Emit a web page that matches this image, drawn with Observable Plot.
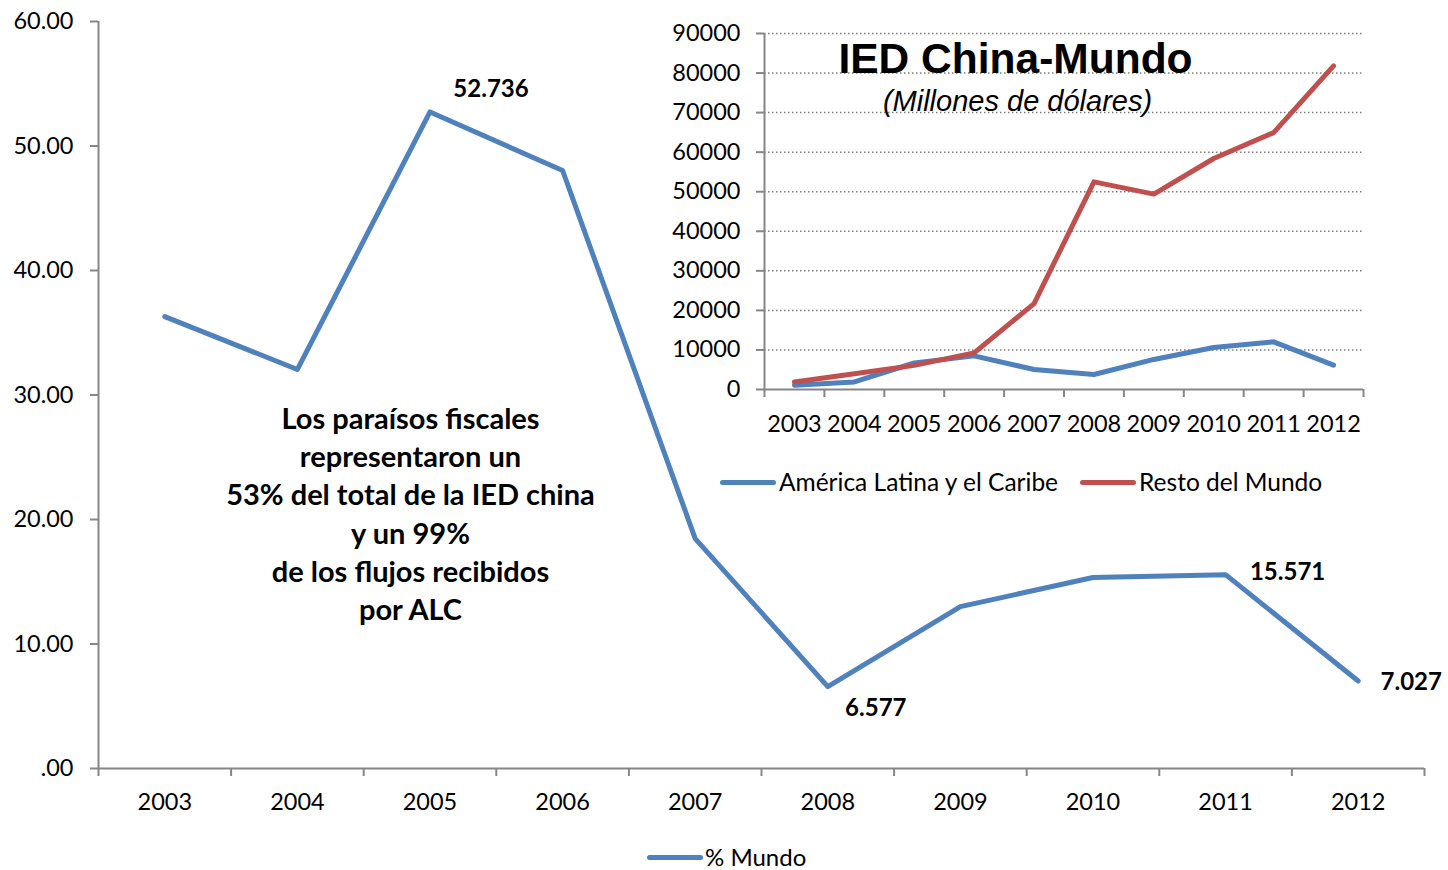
<!DOCTYPE html>
<html><head><meta charset="utf-8">
<script src="https://cdn.jsdelivr.net/npm/d3@7"></script>
<script src="https://cdn.jsdelivr.net/npm/@observablehq/plot@0.6"></script>
<style>
body{margin:0;background:#fff;font-family:Lato,sans-serif;}
#wrap{position:relative;width:1448px;height:870px;overflow:hidden;background:#fff;}
.abs{position:absolute;}
.leg{position:absolute;display:flex;align-items:center;height:24px;line-height:24px;padding-right:10px;font-family:Lato,sans-serif;color:#000;white-space:nowrap;}
.sw{display:inline-block;height:5px;border-radius:3px;flex:none;}
</style></head><body><div id="wrap"></div>
<script>
// ---- data ----
const years = [2003, 2004, 2005, 2006, 2007, 2008, 2009, 2010, 2011, 2012];
const pctMundo = [36.3, 32.05, 52.736, 48.03, 18.47, 6.577, 13.0, 15.34, 15.571, 7.027];
const americaLatina = [1100, 1900, 6700, 8500, 5050, 3800, 7600, 10600, 12050, 6150];
const restoMundo = [1900, 4000, 6100, 9250, 21700, 52500, 49400, 58400, 64950, 81800];
const seriesNames = ["América Latina y el Caribe", "Resto del Mundo"];
const mainYTicks = [0, 10, 20, 30, 40, 50, 60];
const insetYTicks = [0, 10000, 20000, 30000, 40000, 50000, 60000, 70000, 80000, 90000];
const labeledYears = [2005, 2008, 2011, 2012];
const mainLegend = "% Mundo";
const insetTitle = "IED China-Mundo";
const insetSubtitle = "(Millones de dólares)";
const noteText = "Los paraísos fiscales\nrepresentaron un\n53% del total de la IED china\ny un 99%\nde los flujos recibidos\npor ALC";

const BLUE = "#4F81BD", RED = "#C0504D", AXIS = "#868686";
const wrap = document.getElementById("wrap");

const mainData = years.map((year, i) => ({year, pct: pctMundo[i]}));
const bounds = years.map(y => y - 0.5).concat([years[years.length - 1] + 0.5]);
const xDomain = [bounds[0], bounds[bounds.length - 1]];
const fmtY = d => d3.format(".2f")(d).replace(/^0\./, ".");
const fmtL = d3.format(".3f");
const lab = (yr) => mainData.filter(d => d.year === yr);

const labelOpts = {x: "year", y: "pct", text: d => fmtL(d.pct), fontWeight: "bold", fontSize: 24, fill: "#000"};

const main = Plot.plot({
  width: 1448, height: 830,
  marginLeft: 98, marginRight: 24, marginTop: 21, marginBottom: 62,
  style: {fontFamily: "Lato, sans-serif", fontSize: "23.5px", color: "#000", background: "transparent", overflow: "visible"},
  x: {type: "linear", domain: xDomain},
  y: {domain: [0, 60]},
  marks: [
    Plot.axisY({ticks: mainYTicks, tickSize: 8, tickFormat: () => "", color: AXIS, strokeWidth: 2, label: null}),
    Plot.axisY({ticks: mainYTicks, tickSize: 0, tickPadding: 25, tickFormat: fmtY, color: "#000", label: null}),
    Plot.axisX({ticks: bounds, tickSize: 8, tickFormat: () => "", color: AXIS, strokeWidth: 2, label: null}),
    Plot.axisX({ticks: years, tickSize: 0, tickPadding: 25, tickFormat: d => String(d), color: "#000", label: null}),
    Plot.ruleX([xDomain[0]], {stroke: AXIS, strokeWidth: 2}),
    Plot.ruleY([0], {stroke: AXIS, strokeWidth: 2}),
    Plot.line(mainData, {x: "year", y: "pct", stroke: BLUE, strokeWidth: 5, strokeLinejoin: "round", strokeLinecap: "round"}),
    Plot.text(lab(labeledYears[0]), {...labelOpts, dx: 61, dy: -23}),
    Plot.text(lab(labeledYears[1]), {...labelOpts, dx: 48, dy: 22}),
    Plot.text(lab(labeledYears[2]), {...labelOpts, dx: 62, dy: -2}),
    Plot.text(lab(labeledYears[3]), {...labelOpts, dx: 53, dy: 1}),
    Plot.text([noteText], {frameAnchor: "top-left", dx: 312, dy: 380, lineAnchor: "top", textAnchor: "middle",
      fontWeight: "bold", fontSize: 29, lineHeight: 1.32, fill: "#000"})
  ]
});
main.classList.add("abs");
main.style.left = "0px"; main.style.top = "0px";
wrap.appendChild(main);

// main legend
const ml = document.createElement("div");
ml.className = "leg";
ml.style.left = "647px"; ml.style.top = "845px"; ml.style.fontSize = "24px";
ml.innerHTML = `<span class="sw" style="width:56px;background:${BLUE}"></span><span style="margin-left:2px">${mainLegend}</span>`;
wrap.appendChild(ml);

// ---- inset ----
const insetData = years.flatMap((year, i) => [
  {year, series: seriesNames[0], value: americaLatina[i]},
  {year, series: seriesNames[1], value: restoMundo[i]}
]);
const inset = Plot.plot({
  width: 720, height: 440,
  marginLeft: 104, marginRight: 17, marginTop: 33, marginBottom: 51,
  style: {fontFamily: "Lato, sans-serif", fontSize: "23.5px", color: "#000", background: "transparent", overflow: "visible"},
  x: {type: "linear", domain: xDomain},
  y: {domain: [0, 90000]},
  color: {domain: seriesNames, range: [BLUE, RED]},
  marks: [
    Plot.gridY({ticks: insetYTicks.slice(1), stroke: "#7f7f7f", strokeOpacity: 1, strokeWidth: 1.5, strokeDasharray: "1.5,2.5"}),
    Plot.axisY({ticks: insetYTicks, tickSize: 8, tickFormat: () => "", color: AXIS, strokeWidth: 2, label: null}),
    Plot.axisY({ticks: insetYTicks, tickSize: 0, tickPadding: 24, tickFormat: d => String(d), color: "#000", label: null}),
    Plot.axisX({ticks: bounds, tickSize: 8, tickFormat: () => "", color: AXIS, strokeWidth: 2, label: null}),
    Plot.axisX({ticks: years, tickSize: 0, tickPadding: 26, tickFormat: d => String(d), color: "#000", label: null}),
    Plot.ruleX([xDomain[0]], {stroke: AXIS, strokeWidth: 2}),
    Plot.ruleY([0], {stroke: AXIS, strokeWidth: 2}),
    Plot.line(insetData, {x: "year", y: "value", stroke: "series", strokeWidth: 5, strokeLinejoin: "round", strokeLinecap: "round"}),
    Plot.text([insetTitle], {frameAnchor: "top-left", dx: 251, dy: 39, lineAnchor: "bottom", textAnchor: "middle",
      fontFamily: "Liberation Sans, Arial, sans-serif", fontWeight: "bold", fontSize: 42.5, fill: "#000"}),
    Plot.text([insetSubtitle], {frameAnchor: "top-left", dx: 253, dy: 77, lineAnchor: "bottom", textAnchor: "middle",
      fontFamily: "Liberation Sans, Arial, sans-serif", fontStyle: "italic", fontSize: 29, fill: "#000"})
  ]
});
inset.classList.add("abs");
inset.style.left = "660px"; inset.style.top = "0px";
wrap.appendChild(inset);

// inset legend
const il = document.createElement("div");
il.className = "leg";
il.style.left = "720px"; il.style.top = "470px"; il.style.fontSize = "24.5px";
il.innerHTML = `<span class="sw" style="width:56px;background:${BLUE}"></span><span style="margin-left:3px">${seriesNames[0]}</span>` +
  `<span class="sw" style="width:56px;background:${RED};margin-left:22px"></span><span style="margin-left:3px">${seriesNames[1]}</span>`;
wrap.appendChild(il);
</script>
</body></html>
